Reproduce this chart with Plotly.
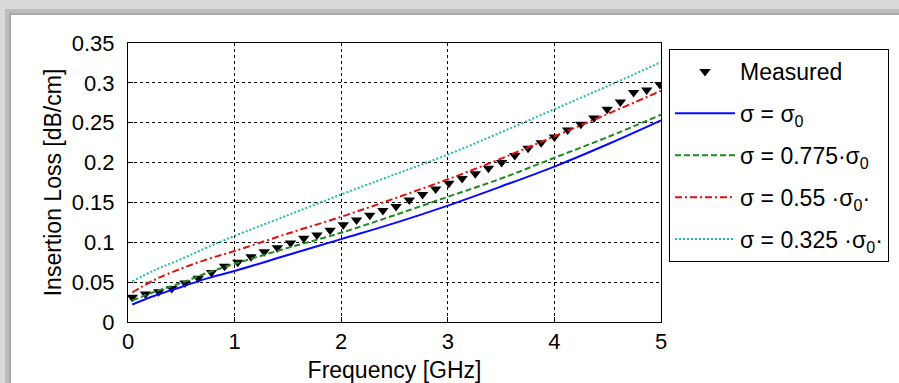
import plotly.graph_objects as go

# ---------------- data ----------------
meas_freq = [0.040, 0.164, 0.288, 0.411, 0.535, 0.659, 0.783, 0.906, 1.030, 1.154,
             1.278, 1.401, 1.525, 1.649, 1.773, 1.896, 2.020, 2.144, 2.268, 2.391,
             2.515, 2.639, 2.763, 2.886, 3.010, 3.134, 3.258, 3.381, 3.505, 3.629,
             3.753, 3.876, 4.000, 4.124, 4.248, 4.371, 4.495, 4.619, 4.743, 4.866, 4.990]
meas_loss = [0.031, 0.035, 0.038, 0.042, 0.049, 0.055, 0.062, 0.070, 0.075, 0.082,
             0.088, 0.093, 0.099, 0.105, 0.109, 0.115, 0.122, 0.128, 0.134, 0.140,
             0.145, 0.153, 0.160, 0.167, 0.174, 0.180, 0.186, 0.193, 0.200, 0.209,
             0.218, 0.225, 0.232, 0.241, 0.248, 0.256, 0.267, 0.276, 0.288, 0.291, 0.298]

sim_freq = [0.04, 0.25, 0.5, 0.75, 1.0, 1.5, 2.0, 2.5, 3.0, 3.5, 4.0, 4.5, 5.0]
loss_s100 = [0.022, 0.033, 0.044, 0.055, 0.064, 0.084, 0.104, 0.124, 0.146, 0.170, 0.195, 0.223, 0.253]
loss_s775 = [0.027, 0.038, 0.049, 0.062, 0.073, 0.093, 0.112, 0.134, 0.157, 0.180, 0.206, 0.232, 0.260]
loss_s55 = [0.037, 0.053, 0.067, 0.079, 0.089, 0.111, 0.132, 0.155, 0.179, 0.205, 0.233, 0.261, 0.290]
loss_s325 = [0.051, 0.065, 0.079, 0.094, 0.108, 0.134, 0.160, 0.185, 0.210, 0.238, 0.267, 0.296, 0.326]

labels = ["Measured",
          "σ = σ<sub>0</sub>",
          "σ = 0.775·σ<sub>0</sub>",
          "σ = 0.55 ·σ<sub>0</sub>·",
          "σ = 0.325 ·σ<sub>0</sub>·"]

x_ticks = [0, 1, 2, 3, 4, 5]
y_ticks = [0, 0.05, 0.1, 0.15, 0.2, 0.25, 0.3, 0.35]
y_tick_text = ["0", "0.05", "0.1", "0.15", "0.2", "0.25", "0.3", "0.35"]

# ---------------- figure ----------------
W, H = 899, 383
L, R, T, B = 128, 238, 43, 61
PW, PH = W - L - R, H - T - B

def px2paper_x(px):
    return (px - L) / PW

def px2paper_y(py):
    return (H - B - py) / PH

FONT = "Liberation Sans, Arial, sans-serif"

fig = go.Figure()
fig.add_trace(go.Scatter(x=meas_freq, y=meas_loss, mode="markers", name=labels[0],
                         legendgroup="g0",
                         marker=dict(symbol="triangle-down", size=10, color="black")))
fig.add_trace(go.Scatter(x=sim_freq, y=loss_s100, mode="lines", name=labels[1],
                         legendgroup="g1",
                         line=dict(color="#0a0aff", width=2, shape="spline")))
fig.add_trace(go.Scatter(x=sim_freq, y=loss_s775, mode="lines", name=labels[2],
                         legendgroup="g2",
                         line=dict(color="#1f8a1f", width=2, dash="6px,3px", shape="spline")))
fig.add_trace(go.Scatter(x=sim_freq, y=loss_s55, mode="lines", name=labels[3],
                         legendgroup="g3",
                         line=dict(color="#e01010", width=2, dash="7px,3px,2px,3px", shape="spline")))
fig.add_trace(go.Scatter(x=sim_freq, y=loss_s325, mode="lines", name=labels[4],
                         legendgroup="g4",
                         line=dict(color="#22b8b4", width=2, dash="2px,2px", shape="spline")))

shapes = [
    dict(type="rect", xref="paper", yref="paper", layer="below",
         x0=px2paper_x(5), x1=px2paper_x(W + 60), y0=px2paper_y(H + 60), y1=px2paper_y(9),
         fillcolor="#bdbdbd", line=dict(width=0)),
    dict(type="rect", xref="paper", yref="paper", layer="below",
         x0=px2paper_x(9), x1=px2paper_x(W + 60), y0=px2paper_y(H + 60), y1=px2paper_y(13),
         fillcolor="#a9a9a9", line=dict(width=0)),
    dict(type="rect", xref="paper", yref="paper", layer="below",
         x0=px2paper_x(11), x1=px2paper_x(W + 60), y0=px2paper_y(H + 60), y1=px2paper_y(15),
         fillcolor="white", line=dict(width=0)),
]

fig.update_layout(
    width=W, height=H,
    margin=dict(l=L, r=R, t=T, b=B, pad=0, autoexpand=False),
    paper_bgcolor="#dadada",
    plot_bgcolor="white",
    font=dict(family=FONT, size=23, color="black"),
    shapes=shapes,
    showlegend=True,
    legend=dict(x=px2paper_x(669), y=px2paper_y(49), xanchor="left", yanchor="top",
                bgcolor="white", bordercolor="black", borderwidth=1,
                font=dict(family=FONT, size=23, color="black"),
                itemwidth=60, tracegroupgap=9, traceorder="grouped"),
    xaxis=dict(range=[0, 5], tickvals=x_ticks, ticktext=[str(v) for v in x_ticks],
               automargin=False,
               showgrid=True, gridcolor="black", griddash="3px,3px", gridwidth=1,
               zeroline=False, showline=True, linecolor="black", linewidth=1, mirror=True,
               ticks="inside", ticklen=5, tickcolor="black", ticklabelstandoff=0,
               title=dict(text="Frequency [GHz]", standoff=12, font=dict(size=23)),
               tickfont=dict(size=22)),
    yaxis=dict(range=[0, 0.35], tickvals=y_ticks, ticktext=y_tick_text,
               automargin=False,
               showgrid=True, gridcolor="black", griddash="3px,3px", gridwidth=1,
               zeroline=False, showline=True, linecolor="black", linewidth=1, mirror=True,
               ticks="inside", ticklen=5, tickcolor="black", ticklabelstandoff=8,
               title=dict(text="Insertion Loss [dB/cm]", standoff=3, font=dict(size=23)),
               tickfont=dict(size=22)),
)

fig.write_html("out.html", config={"displayModeBar": False},
               post_script="document.body.style.margin='0';document.body.style.padding='0';")
